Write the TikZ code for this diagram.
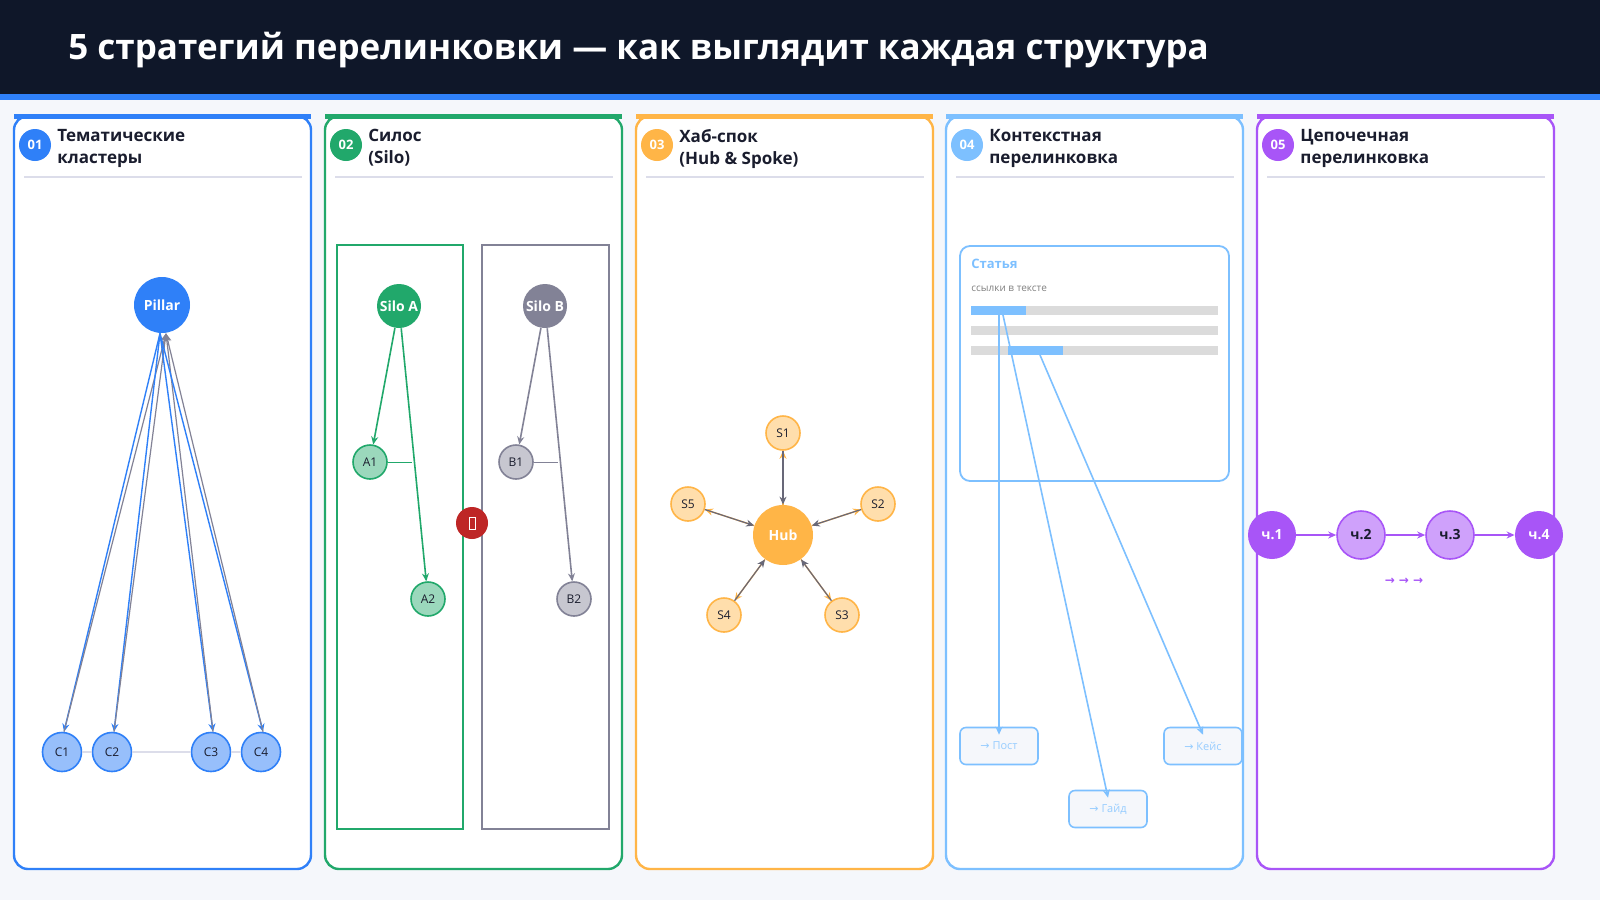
\documentclass[tikz,border=0pt]{standalone}
\usepackage{fontspec}
\setmainfont{Open Sans}
\newfontfamily\djv{DejaVu Sans}
\usetikzlibrary{arrows.meta}
\definecolor{hdr}{HTML}{0F1729}
\definecolor{bgc}{HTML}{F5F7FB}
\definecolor{cblue}{HTML}{2F80F8}
\definecolor{cgreen}{HTML}{21A86B}
\definecolor{corange}{HTML}{FFB547}
\definecolor{clblue}{HTML}{7DC0FF}
\definecolor{cpurple}{HTML}{A855F7}
\definecolor{cgray}{HTML}{828296}
\definecolor{ink}{HTML}{1A1D2E}
\definecolor{sep}{HTML}{DCDDEA}
\begin{document}
\begin{tikzpicture}[x=0.5pt,y=-0.5pt,
  panel/.style={draw=#1,line width=1.2pt,rounded corners=7pt,fill=white},
  badge/.style={circle,fill=#1,minimum size=16pt,inner sep=0pt,text=white,font=\bfseries\fontsize{6.5}{7}\selectfont},
  ptitle/.style={anchor=north west,align=left,text=ink,font=\bfseries\fontsize{8.5}{11}\selectfont,inner sep=0pt},
  nd/.style={circle,draw=#1,line width=0.8pt,inner sep=0pt,minimum size=17pt,text=ink,font=\fontsize{6}{7}\selectfont},
  big/.style={circle,fill=#1,inner sep=0pt,text=white,font=\bfseries\fontsize{7}{8}\selectfont},
  tip/.style={-{Stealth[length=4pt,width=3.5pt]}},
  lbox/.style={draw=clblue,line width=0.8pt,rounded corners=3pt,fill=bgc,minimum width=39pt,minimum height=18.5pt,text=clblue!80,font=\fontsize{5.5}{6}\selectfont},
]
\useasboundingbox (0,0) rectangle (1600,900);
\fill[bgc] (0,0) rectangle (1600,900);
\fill[hdr] (0,0) rectangle (1600,94);
\fill[cblue] (0,94) rectangle (1600,100);
\node[anchor=west,text=white,font=\bfseries\fontsize{17.5}{20}\selectfont,inner sep=0pt] (title) at (68,50) {5 стратегий перелинковки — как выглядит каждая структура};
% panels
\foreach \x/\c/\n/\t in {14/cblue/01/{Тематические\\кластеры},325/cgreen/02/{Силос\\(Silo)},636/corange/03/{Хаб-спок\\(Hub \& Spoke)},946/clblue/04/{Контекстная\\перелинковка},1257/cpurple/05/{Цепочечная\\перелинковка}}{
  \draw[panel=\c] (\x,116) rectangle (\x+297,869);
  \fill[\c] (\x,114) rectangle (\x+297,119);
  \node[badge=\c] (b\n) at (\x+21,145) {\n};
  \node[ptitle] (t\n) at (\x+43,129) {\t};
  \draw[sep,line width=0.6pt] (\x+10,177) -- (\x+288,177);
}
% panel 1
\node[big=cblue,minimum size=28pt] (pil) at (162,305) {Pillar};
\foreach \i/\x in {1/62,2/112,3/211,4/261}{
  \node[nd=cblue,fill=cblue!50,minimum size=19.5pt] (c\i) at (\x,752) {C\i};
}
\draw[sep,line width=0.6pt] (c1) -- (c2) -- (c3) -- (c4);
\foreach \i in {1,2,3,4}{
  \draw[cblue,line width=0.7pt,tip] ([xshift=-1pt]pil.south) -- ([xshift=1pt]c\i.north);
  \draw[cgray,line width=0.6pt,tip] ([xshift=1pt]c\i.north) -- ([xshift=2pt]pil.south);
}
% panel 2
\draw[cgreen,line width=0.6pt] (337,245) rectangle (463,829);
\draw[cgray,line width=0.6pt] (482,245) rectangle (609,829);
\node[big=cgreen,minimum size=22pt] (sa) at (399,306) {Silo A};
\node[big=cgray,minimum size=22pt] (sb) at (545,306) {Silo B};
\node[nd=cgreen,fill=cgreen!45] (a1) at (370,462) {A1};
\node[nd=cgreen,fill=cgreen!45] (a2) at (428,599) {A2};
\node[nd=cgray,fill=cgray!45] (b1) at (516,462) {B1};
\node[nd=cgray,fill=cgray!45] (b2) at (574,599) {B2};
\coordinate (a1e) at (412,462); \coordinate (b1e) at (558,462);
\draw[cgreen,line width=0.5pt] (a1) -- (a1e);
\draw[cgray,line width=0.5pt] (b1) -- (b1e);
\draw[cgreen,line width=0.8pt,tip] (sa) -- (a1);
\draw[cgreen,line width=0.8pt,tip] (sa) -- (a2);
\draw[cgray,line width=0.8pt,tip] (sb) -- (b1);
\draw[cgray,line width=0.8pt,tip] (sb) -- (b2);
\node[circle,fill=red!70!black!85,minimum size=16pt,inner sep=0pt] (no) at (472,523) {};
\draw[white,line width=0.5pt] (469,517) rectangle (475,529);
% panel 3
\node[big=corange,minimum size=30pt] (hub) at (783,535) {Hub};
\foreach \i/\x/\y in {1/783/433,2/878/504,3/842/615,4/724/615,5/688/504}{
  \node[nd=corange,fill=corange!45] (s\i) at (\x,\y) {S\i};
  \draw[corange,line width=0.7pt,tip] (hub) -- (s\i);
  \draw[cgray!80!black,line width=0.6pt,tip] (s\i) -- (hub);
}
% panel 4
\draw[clblue,line width=0.9pt,rounded corners=5pt,fill=white] (960,246) rectangle (1229,481);
\node[anchor=west,inner sep=0pt,text=clblue,font=\bfseries\fontsize{6.5}{7}\selectfont] (art) at (971,264) {Статья};
\node[anchor=west,inner sep=0pt,text=gray,font=\fontsize{5}{6}\selectfont] (sub) at (971,289) {ссылки в тексте};
\foreach \y in {306,326,346}{\fill[black!14] (971,\y) rectangle (1218,\y+9);}
\fill[clblue] (971,306) rectangle (1026,315);
\fill[clblue] (1008,346) rectangle (1063,355);
\coordinate (l1) at (999,315); \coordinate (l2) at (1003,315); \coordinate (l3) at (1040,355);
\node[lbox] (post) at (999,746) {{\djv→} Пост};
\node[lbox] (keis) at (1203,746) {{\djv→} Кейс};
\node[lbox] (gaid) at (1108,809) {{\djv→} Гайд};
\draw[clblue,line width=0.8pt,tip] (l1) -- ([yshift=-4pt]post.north);
\draw[clblue,line width=0.8pt,tip] (l2) -- ([yshift=-4pt]gaid.north);
\draw[clblue,line width=0.8pt,tip] (l3) -- ([yshift=-4pt]keis.north);
% panel 5
\node[big=cpurple,minimum size=24pt] (h1) at (1272,535) {ч.1};
\node[circle,draw=cpurple,fill=cpurple!55,line width=0.8pt,minimum size=24pt,inner sep=0pt,text=ink,font=\bfseries\fontsize{7}{8}\selectfont] (h2) at (1361,535) {ч.2};
\node[circle,draw=cpurple,fill=cpurple!55,line width=0.8pt,minimum size=24pt,inner sep=0pt,text=ink,font=\bfseries\fontsize{7}{8}\selectfont] (h3) at (1450,535) {ч.3};
\node[big=cpurple,minimum size=24pt] (h4) at (1539,535) {ч.4};
\draw[cpurple,line width=1.1pt,tip] (h1) -- (h2);
\draw[cpurple,line width=1.1pt,tip] (h2) -- (h3);
\draw[cpurple,line width=1.1pt,tip] (h3) -- (h4);
\node[text=cpurple,font=\djv\bfseries\fontsize{6}{7}\selectfont] (arr) at (1404,581) {→ → →};
\end{tikzpicture}
\end{document}
